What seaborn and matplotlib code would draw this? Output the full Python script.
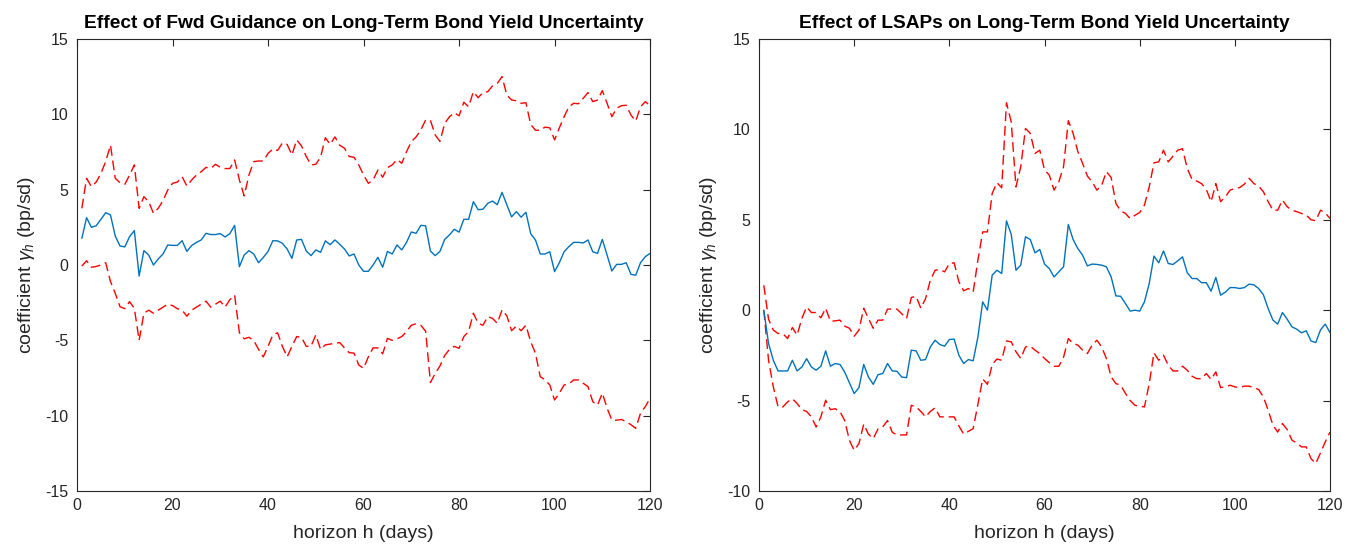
import numpy as np
import pandas as pd
import seaborn as sns
import matplotlib
matplotlib.use('Agg')
import matplotlib.pyplot as plt

# horizons in days
h = np.arange(1, 121)

# Fwd guidance panel
fg_coef = [1.77, 3.14, 2.5, 2.6, 3.03, 3.47, 3.32, 1.92, 1.26, 1.2,
           1.88, 2.28, -0.73, 0.95, 0.66, 0.0, 0.4, 0.73, 1.33, 1.3,
           1.3, 1.61, 0.9, 1.29, 1.5, 1.66, 2.1, 2.02, 2.02, 2.08,
           1.86, 2.08, 2.63, -0.11, 0.66, 0.95, 0.73, 0.15, 0.5, 0.9,
           1.61, 1.6, 1.44, 1.06, 0.44, 1.66, 1.7, 0.93, 0.62, 1.0,
           0.84, 1.6, 1.35, 1.66, 1.38, 1.06, 0.6, 0.73, 0.0, -0.42,
           -0.42, 0.0, 0.51, -0.15, 0.9, 0.73, 1.33, 1.0, 1.5, 2.19,
           2.1, 2.63, 2.6, 0.93, 0.62, 0.9, 1.7, 2.0, 2.37, 2.18,
           3.03, 3.03, 4.2, 3.67, 3.7, 4.09, 4.24, 4.0, 4.82, 4.0,
           3.19, 3.54, 3.17, 3.5, 2.08, 1.66, 0.73, 0.73, 0.88, -0.44,
           0.15, 0.88, 1.22, 1.5, 1.5, 1.46, 1.66, 0.88, 0.77, 1.7,
           0.66, -0.4, 0.04, 0.04, 0.15, -0.62, -0.68, 0.15, 0.55, 0.77]
fg_upper = [3.76, 5.75, 5.2, 5.5, 6.08, 6.86, 7.96, 5.75, 5.46, 5.35,
            5.97, 6.64, 3.76, 4.53, 4.2, 3.43, 3.76, 4.27, 4.98, 5.42,
            5.5, 5.86, 5.24, 5.64, 5.97, 6.19, 6.48, 6.41, 6.68, 6.48,
            6.4, 6.4, 6.97, 5.64, 4.58, 5.97, 6.86, 6.9, 6.9, 7.4,
            7.7, 7.6, 8.1, 8.0, 7.3, 8.3, 7.9, 7.2, 6.64, 6.68,
            7.15, 8.45, 8.0, 8.5, 7.95, 7.75, 7.2, 7.15, 6.64, 5.97,
            5.42, 5.64, 6.3, 5.82, 6.46, 6.64, 7.0, 6.75, 7.52, 8.18,
            8.5, 8.96, 9.62, 9.6, 8.63, 8.2, 9.4, 9.84, 10.1, 9.9,
            10.8, 10.5, 11.5, 11.1, 11.45, 11.5, 11.88, 12.05, 12.5, 11.28,
            10.95, 10.9, 10.73, 10.77, 9.33, 8.94, 8.94, 9.15, 9.1, 8.3,
            9.1, 9.84, 10.5, 10.73, 10.7, 11.06, 11.44, 10.84, 10.95, 11.57,
            10.73, 9.84, 10.4, 10.57, 10.6, 9.95, 9.55, 10.5, 10.84, 10.57]
fg_lower = [-0.07, 0.28, -0.15, -0.1, 0.0, 0.15, -1.1, -1.88, -2.77, -2.9,
            -2.43, -2.88, -5.0, -3.2, -3.0, -3.2, -3.0, -2.8, -2.6, -2.7,
            -2.9, -3.0, -3.4, -3.0, -2.8, -2.6, -2.4, -2.8, -2.6, -2.4,
            -2.8, -2.3, -2.0, -4.5, -4.9, -4.8, -5.0, -5.6, -6.1, -5.4,
            -4.64, -4.5, -5.4, -6.1, -5.4, -4.75, -4.8, -5.4, -5.4, -4.64,
            -5.6, -5.3, -5.25, -5.2, -5.15, -5.5, -5.82, -5.85, -6.64, -6.86,
            -6.1, -5.5, -5.5, -5.9, -4.87, -5.0, -4.9, -4.75, -4.42, -4.0,
            -3.9, -4.0, -4.4, -7.8, -7.2, -6.7, -6.0, -5.6, -5.4, -5.53,
            -4.75, -4.42, -3.2, -3.87, -4.0, -3.43, -3.54, -3.87, -2.98, -3.37,
            -4.36, -4.05, -4.36, -4.0, -5.09, -5.86, -7.41, -7.63, -7.96, -8.96,
            -8.5, -7.96, -7.9, -7.63, -7.63, -7.85, -8.07, -9.07, -9.3, -8.5,
            -9.5, -10.3, -10.3, -10.25, -10.4, -10.6, -10.84, -9.84, -9.4, -8.85]

# LSAP panel
ls_coef = [0.0, -1.84, -2.77, -3.36, -3.36, -3.36, -2.77, -3.36, -3.14, -2.68,
           -3.14, -3.32, -3.1, -2.25, -3.1, -2.95, -3.0, -3.42, -4.02, -4.61,
           -4.28, -3.0, -3.7, -4.1, -3.57, -3.5, -2.95, -3.36, -3.38, -3.7,
           -3.73, -2.21, -2.25, -2.77, -2.73, -2.03, -1.66, -1.9, -1.99, -1.62,
           -1.6, -2.49, -2.95, -2.73, -2.8, -1.48, 0.46, 0.0, 1.94, 2.21,
           2.03, 4.94, 4.2, 2.21, 2.49, 4.06, 3.91, 3.17, 3.36, 2.55,
           2.3, 1.84, 2.12, 2.4, 4.74, 3.91, 3.41, 3.04, 2.45, 2.55,
           2.53, 2.49, 2.4, 1.84, 0.79, 0.77, 0.37, -0.05, 0.0, -0.05,
           0.46, 1.48, 2.99, 2.62, 3.28, 2.58, 2.53, 2.73, 2.95, 2.07,
           1.75, 1.75, 1.52, 1.52, 1.05, 1.81, 0.83, 1.0, 1.25, 1.25,
           1.2, 1.25, 1.44, 1.4, 1.2, 0.85, 0.09, -0.55, -0.77, -0.13,
           -0.5, -0.92, -1.05, -1.25, -1.14, -1.7, -1.79, -1.09, -0.77, -1.24]
ls_upper = [1.38, -0.5, -1.1, -1.29, -1.29, -1.57, -0.96, -1.38, -0.46, 0.18,
            -0.13, -0.13, -0.42, 0.11, -0.61, -0.59, -0.55, -0.88, -1.0, -1.44,
            -1.1, 0.11, -0.46, -1.0, -0.55, -0.55, 0.06, 0.06, 0.06, -0.2,
            -0.46, 0.7, 0.77, 0.11, 0.64, 1.66, 2.21, 2.25, 2.12, 2.58,
            2.62, 1.57, 1.07, 1.2, 1.0, 2.77, 4.33, 4.33, 6.46, 7.05,
            6.77, 11.47, 10.42, 6.82, 7.93, 10.05, 9.78, 8.67, 8.85, 7.75,
            7.47, 6.64, 7.1, 7.93, 10.48, 9.78, 8.77, 8.12, 7.42, 7.1,
            6.64, 6.9, 7.66, 7.34, 5.9, 5.5, 5.35, 5.07, 5.25, 5.4,
            5.81, 6.82, 8.15, 8.2, 8.85, 8.2, 8.52, 8.85, 8.93, 7.84,
            7.23, 7.14, 7.0, 6.68, 6.0, 7.0, 6.0, 6.27, 6.64, 6.73,
            6.78, 6.97, 7.29, 7.0, 6.86, 6.55, 6.0, 5.53, 5.53, 6.09,
            5.72, 5.53, 5.45, 5.35, 5.26, 5.0, 4.95, 5.53, 5.38, 5.07]
ls_lower = [0.0, -2.77, -4.24, -5.35, -5.35, -5.07, -4.9, -5.16, -5.5, -5.6,
            -5.9, -6.46, -5.9, -4.98, -5.5, -5.45, -5.6, -6.1, -7.2, -7.75,
            -7.38, -6.3, -6.86, -7.1, -6.57, -6.46, -6.1, -6.75, -6.9, -6.9,
            -6.9, -5.26, -5.35, -5.6, -5.9, -5.6, -5.4, -5.9, -5.9, -5.9,
            -5.9, -6.4, -6.85, -6.7, -6.55, -5.2, -3.8, -4.1, -3.0, -2.7,
            -2.77, -1.7, -1.75, -2.3, -2.67, -2.03, -1.99, -2.21, -2.4, -2.67,
            -2.9, -3.1, -3.1, -2.6, -1.57, -1.84, -1.93, -2.21, -2.4, -1.93,
            -1.66, -2.03, -2.67, -3.69, -4.06, -4.15, -4.6, -5.0, -5.26, -5.31,
            -5.35, -4.06, -2.36, -2.77, -2.49, -3.04, -3.36, -3.36, -3.1, -3.32,
            -3.65, -3.79, -3.79, -3.5, -3.83, -3.41, -4.28, -4.24, -4.15, -4.24,
            -4.28, -4.2, -4.2, -4.28, -4.39, -4.8, -5.53, -6.36, -6.74, -6.27,
            -6.6, -7.19, -7.34, -7.56, -7.56, -8.21, -8.48, -7.89, -7.28, -6.74]

titles = ['Effect of Fwd Guidance on Long-Term Bond Yield Uncertainty',
          'Effect of LSAPs on Long-Term Bond Yield Uncertainty']
ylims = [(-15, 15), (-10, 15)]

sns.set_style('white')
plt.rcParams['font.family'] = ['Liberation Sans', 'DejaVu Sans']
plt.rcParams['mathtext.fontset'] = 'custom'
plt.rcParams['mathtext.it'] = 'Liberation Sans:italic'
plt.rcParams['mathtext.rm'] = 'Liberation Sans'
plt.rcParams['axes.unicode_minus'] = False
plt.rcParams['xtick.direction'] = 'in'
plt.rcParams['ytick.direction'] = 'in'

fig = plt.figure(figsize=(13.47, 5.44), dpi=100)
axes = [fig.add_axes([0.0572, 0.0974, 0.4254, 0.831]),
        fig.add_axes([0.5635, 0.0974, 0.4239, 0.831])]

dash = (0, (7, 3.5))
panels = [(fg_coef, fg_upper, fg_lower), (ls_coef, ls_upper, ls_lower)]
for ax, (coef, up, lo), title, yl in zip(axes, panels, titles, ylims):
    df = pd.DataFrame({'h': h, 'coef': coef, 'upper': up, 'lower': lo})
    sns.lineplot(data=df, x='h', y='upper', ax=ax, color='#FF0000', lw=1.0,
                 linestyle=dash)
    sns.lineplot(data=df, x='h', y='lower', ax=ax, color='#FF0000', lw=1.0,
                 linestyle=dash)
    sns.lineplot(data=df, x='h', y='coef', ax=ax, color='#0072BD', lw=1.0)
    ax.set_xlim(0, 120)
    ax.set_ylim(*yl)
    ax.set_xticks(np.arange(0, 121, 20))
    ax.set_yticks(np.arange(yl[0], yl[1] + 1, 5))
    ax.set_title(title, fontsize=13.8, fontweight='bold', color='black', pad=8)
    ax.set_xlabel('horizon h (days)', fontsize=14, color='#262626', labelpad=8.5)
    ax.set_ylabel(r'coefficient $\gamma_h$ (bp/sd)', fontsize=14, color='#262626',
                  labelpad=6)
    ax.tick_params(axis='both', labelsize=11.5, colors='#262626', length=5,
                   top=True, right=True, width=0.8)
    ax.tick_params(axis='x', pad=5)
    ax.tick_params(axis='y', pad=6.5)
    for s in ax.spines.values():
        s.set_visible(True)
        s.set_color('#262626')
        s.set_linewidth(0.8)

fig.savefig('out.png', dpi=100)
